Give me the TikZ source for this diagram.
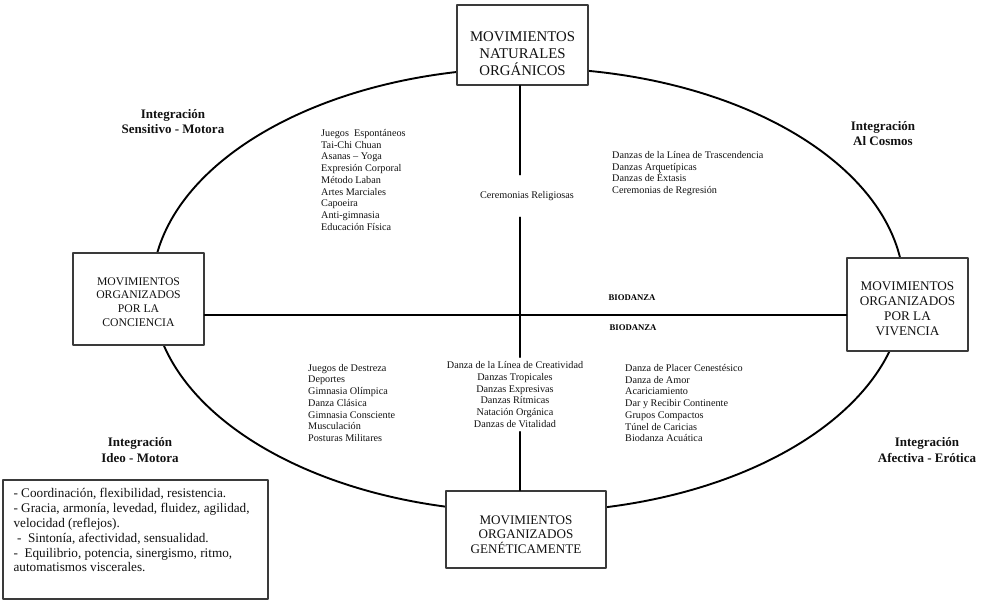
\documentclass[tikz,border=0pt]{standalone}
\usepackage{fontspec}
\setmainfont{Liberation Serif}
\usepackage{tikz}
\usetikzlibrary{positioning}
\definecolor{edge}{HTML}{3A3A3A}
\definecolor{ink}{HTML}{111111}
\tikzset{
  MovBox/.style={
    draw=edge, line width=1.3pt,
    fill=white, rectangle, inner sep=0pt
  },
  BoxText/.style={align=center, text=ink, inner sep=0pt},
  ItemList/.style={
    align=left, inner sep=0pt, text=ink,
    font=\fontsize{10.2}{11.75}\selectfont
  },
  IntLabel/.style={
    align=center, inner sep=0pt, text=ink,
    font=\bfseries\fontsize{13}{15.5}\selectfont
  },
  BioLabel/.style={inner sep=0pt, font=\bfseries\fontsize{8.7}{10}\selectfont},
  NoteText/.style={
    align=left, inner sep=0pt, text=ink,
    font=\fontsize{13.2}{14.8}\selectfont
  },
  Orbit/.style={line width=1.9pt},
  Axis/.style={line width=1.3pt}
}

\begin{document}
\begin{tikzpicture}[x=1pt, y=-1pt, line cap=round, line join=round]
  \useasboundingbox (0,0) rectangle (992,610);

  % the big ellipse behind the boxes
  \draw[Orbit] (528,290) ellipse [x radius=376pt, y radius=222pt];

  % the four boxes on the ellipse
  \node[MovBox, minimum width=131pt, minimum height=80pt,
        label={[BoxText, font=\fontsize{14.8}{17}\selectfont, yshift=-8.7pt]center:MOVIMIENTOS\\NATURALES\\ORGÁNICOS}]
        (naturales) at (522.5,45) {};
  \node[MovBox, minimum width=131pt, minimum height=92pt,
        label={[BoxText, font=\fontsize{11.7}{13.7}\selectfont, yshift=-3pt]center:MOVIMIENTOS\\ORGANIZADOS\\POR LA\\CONCIENCIA}]
        (conciencia) at (138.5,299) {};
  \node[MovBox, minimum width=121pt, minimum height=93pt,
        label={[BoxText, font=\fontsize{13.2}{15}\selectfont, yshift=-4.5pt]center:MOVIMIENTOS\\ORGANIZADOS\\POR LA\\VIVENCIA}]
        (vivencia) at (907.5,304.5) {};
  \node[MovBox, minimum width=160pt, minimum height=77pt,
        label={[BoxText, font=\fontsize{13.1}{14.5}\selectfont, yshift=-5pt]center:MOVIMIENTOS\\ORGANIZADOS\\GENÉTICAMENTE}]
        (geneticos) at (526,529.5) {};

  % lists in the four quarters
  \node[ItemList, anchor=west] (espontaneos) at (321,180)
    {Juegos\ \ Espontáneos\\Tai-Chi Chuan\\Asanas -- Yoga\\Expresión Corporal\\Método Laban\\Artes Marciales\\Capoeira\\Anti-gimnasia\\Educación Física};
  \node[ItemList, anchor=west] (trascendencia) at (612,173.5)
    {Danzas de la Línea de Trascendencia\\Danzas Arquetípicas\\Danzas de Éxtasis\\Ceremonias de Regresión};
  \node[ItemList, minimum height=42pt] (ceremonias) at (527,196) {Ceremonias Religiosas};
  \node[ItemList, anchor=west] (destreza) at (308,403)
    {Juegos de Destreza\\Deportes\\Gimnasia Olímpica\\Danza Clásica\\Gimnasia Consciente\\Musculación\\Posturas Militares};
  \node[ItemList, align=center, inner ysep=4pt] (creatividad) at (515,394.5)
    {Danza de la Línea de Creatividad\\Danzas Tropicales\\Danzas Expresivas\\Danzas Rítmicas\\Natación Orgánica\\Danzas de Vitalidad};
  \node[ItemList, anchor=west] (placer) at (625,403)
    {Danza de Placer Cenestésico\\Danza de Amor\\Acariciamiento\\Dar y Recibir Continente\\Grupos Compactos\\Túnel de Caricias\\Biodanza Acuática};

  % integration labels outside the ellipse
  \node[IntLabel] (sensitivo) at (173,121.5) {Integración\\Sensitivo - Motora};
  \node[IntLabel] (cosmos) at (883,133.5) {Integración\\Al Cosmos};
  \node[IntLabel] (ideo) at (140,450) {Integración\\Ideo - Motora};
  \node[IntLabel] (afectiva) at (927,450) {Integración\\Afectiva - Erótica};

  \node[BioLabel] (bioArriba) at (632,298) {BIODANZA};
  \node[BioLabel] (bioAbajo) at (633,328) {BIODANZA};

  % the two axes
  \coordinate (cruce) at (520,315);
  \draw[Axis, line width=1.9pt] (conciencia.east |- cruce) -- (vivencia.west |- cruce);
  \draw[Axis] (naturales.south -| cruce) -- (ceremonias.north -| cruce);
  \draw[Axis] (ceremonias.south -| cruce) -- (creatividad.north -| cruce);
  \draw[Axis] (creatividad.south -| cruce) -- (geneticos.north -| cruce);

  % notes box
  \node[MovBox, minimum width=265pt, minimum height=119pt] (notas) at (135.5,539.5) {};
  \node[NoteText, below right=9pt and 11pt of notas.north west] (notasTexto)
    {- Coordinación, flexibilidad, resistencia.\\
     - Gracia, armonía, levedad, fluidez, agilidad,\\
     velocidad (reflejos).\\
     \hspace*{3.5pt}-\ \ Sintonía, afectividad, sensualidad.\\
     -\ \ Equilibrio, potencia, sinergismo, ritmo,\\
     automatismos viscerales.};
\end{tikzpicture}
\end{document}
